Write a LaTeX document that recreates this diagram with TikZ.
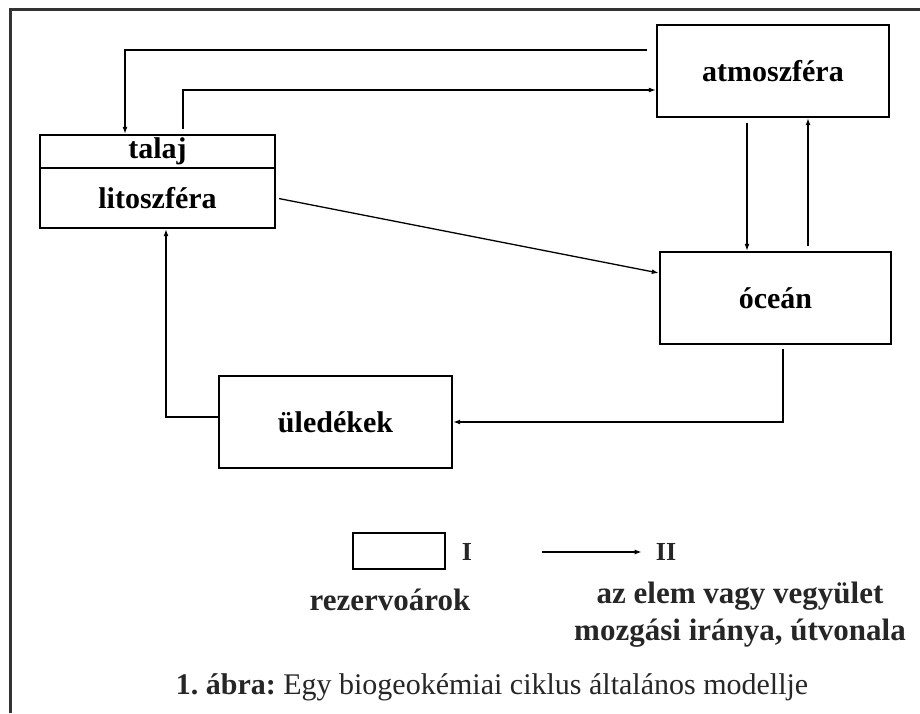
\documentclass[tikz,border=0pt]{standalone}
\usepackage{fontspec}
\setmainfont{Liberation Serif}
\usepackage{tikz}
\usetikzlibrary{arrows.meta}
\frenchspacing

\begin{document}
\begin{tikzpicture}[x=1pt,y=-1pt,
		box/.style={draw,line width=2.4pt,inner sep=0pt,font=\fontsize{30}{34}\selectfont\bfseries},
		arr/.style={line width=1.3pt,-{Latex[length=7pt,width=5pt]}},
		legtxt/.style={text=black!85,font=\fontsize{31}{37}\selectfont\bfseries,align=center}]
		\useasboundingbox (0,0) rectangle (920,713);
		
		% Frame (top and left only)
		\draw[line width=3pt,black!80] (920,9) -- (10,9) -- (10,713);
		
		% Reservoirs
		\node[box,minimum width=235pt,minimum height=33pt] (talaj) at (157.5,151.5) {talaj};
		\node[box,minimum width=235pt,minimum height=60pt] (lito) at (157.5,198) {litoszféra};
		\node[box,minimum width=232pt,minimum height=92pt] (atmo) at (773,71) {atmoszféra};
		\node[box,minimum width=231pt,minimum height=92pt] (ocean) at (775.5,298) {óceán};
		\node[box,minimum width=233pt,minimum height=92pt] (uled) at (335.5,422) {üledékek};
		
		% Fluxes
		\draw[arr,shorten <=9pt] ([yshift=21pt]atmo.west) -| ([xshift=-32.5pt]talaj.north);
		\draw[arr] ([xshift=25.5pt,yshift=5pt]talaj.north) |- ([yshift=-19pt]atmo.west);
		\draw[arr,shorten <=3pt] (lito.east) -- ([yshift=25pt]ocean.west);
		\draw[arr,shorten <=5pt] ([xshift=-26pt]atmo.south) -- ([xshift=-26pt]atmo.south |- ocean.north);
		\draw[arr,shorten <=5pt] ([xshift=35pt]atmo.south |- ocean.north) -- ([xshift=35pt]atmo.south);
		\draw[arr,shorten <=4pt] ([xshift=7.5pt]ocean.south) |- (uled.east);
		\draw[arr] ([yshift=5pt]uled.west) -| ([xshift=8.5pt]lito.south);
		
		% Legend
		\node[draw,line width=2.2pt,minimum width=92pt,minimum height=36pt] (leg) at (399,551) {};
		\node[text=black!85,font=\fontsize{26}{30}\selectfont\bfseries] (I) at (467,552) {I};
		\coordinate (legs) at (542,552);
		\node[text=black!85,font=\fontsize{26}{30}\selectfont\bfseries,inner sep=0pt] (II) at (666,552) {II};
		\draw[arr,shorten >=14pt] (legs) -- (II);
		\node[legtxt] (rez) at (390,600) {rezervoárok};
		\node[legtxt] (irany) at (740,615) {az elem vagy vegyület\\mozgási iránya, útvonala};
		
		% Caption
		\node[text=black!85,font=\fontsize{30}{36}\selectfont] (cap) at (492,687) {\textbf{1. ábra:} Egy biogeokémiai ciklus általános modellje};
	\end{tikzpicture}
\end{document}
